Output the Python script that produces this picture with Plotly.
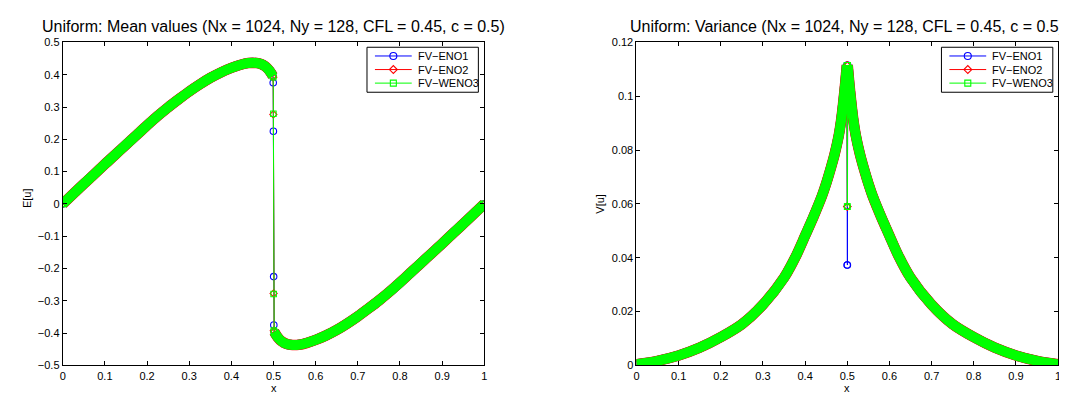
import plotly.graph_objects as go

# ---------------- data ----------------
# Mean values E[u]: smooth part left of the shock
mean_x_left = [0.0, 0.025, 0.05, 0.075, 0.1, 0.125, 0.15, 0.175, 0.2, 0.225, 0.25,
               0.275, 0.3, 0.325, 0.35, 0.375, 0.4, 0.42, 0.44, 0.46, 0.47, 0.48,
               0.49, 0.4985]
mean_y_left = [0.0, 0.031, 0.062, 0.092, 0.123, 0.153, 0.183, 0.213, 0.243, 0.272,
               0.299, 0.324, 0.348, 0.370, 0.390, 0.407, 0.421, 0.430, 0.436, 0.436,
               0.433, 0.426, 0.413, 0.396]
# smooth part right of the shock
mean_x_right = [0.5015, 0.51, 0.52, 0.53, 0.54, 0.56, 0.58, 0.6, 0.625, 0.65, 0.675,
                0.7, 0.725, 0.75, 0.775, 0.8, 0.825, 0.85, 0.875, 0.9, 0.925, 0.95,
                0.975, 1.0]
mean_y_right = [-0.396, -0.413, -0.426, -0.433, -0.436, -0.436, -0.430, -0.421, -0.407,
                -0.390, -0.370, -0.348, -0.324, -0.299, -0.272, -0.243, -0.213,
                -0.183, -0.153, -0.123, -0.092, -0.062, -0.031, 0.0]
# cells inside the shock (x and values per scheme)
shock_x = [0.4993, 0.4997, 0.5003, 0.5007]
shock_mean_eno1 = [0.375, 0.225, -0.225, -0.375]
shock_mean_eno2 = [0.392, 0.277, -0.277, -0.392]
shock_mean_weno3 = [0.392, 0.279, -0.279, -0.392]

# Variance V[u]
var_x_left = [0.0, 0.05, 0.1, 0.15, 0.2, 0.25, 0.3, 0.35, 0.38, 0.4, 0.42, 0.44,
              0.45, 0.46, 0.47, 0.48, 0.485, 0.49, 0.495, 0.499]
var_y_left = [0.0004, 0.0017, 0.0037, 0.0066, 0.0105, 0.0153, 0.0226, 0.0326,
              0.0412, 0.0482, 0.0553, 0.0630, 0.0676, 0.0728, 0.0785, 0.0856,
              0.0905, 0.0970, 0.1045, 0.1115]
var_x_right = [0.501, 0.505, 0.51, 0.515, 0.52, 0.53, 0.54, 0.55, 0.56, 0.58, 0.6,
               0.62, 0.65, 0.7, 0.75, 0.8, 0.85, 0.9, 0.95, 1.0]
var_y_right = [0.1115, 0.1045, 0.0970, 0.0905, 0.0856, 0.0785, 0.0728, 0.0676,
               0.0630, 0.0553, 0.0482, 0.0412, 0.0326, 0.0226, 0.0153, 0.0105,
               0.0066, 0.0037, 0.0017, 0.0004]
shock_var_x = [0.4997, 0.5003]
shock_var_eno1 = [0.0373, 0.0373]
shock_var_eno2 = [0.0590, 0.0590]
shock_var_weno3 = [0.0590, 0.0590]

x_ticks = [0, 0.1, 0.2, 0.3, 0.4, 0.5, 0.6, 0.7, 0.8, 0.9, 1]
x_tick_labels = ["0", "0.1", "0.2", "0.3", "0.4", "0.5", "0.6", "0.7", "0.8", "0.9", "1"]
mean_ticks = [-0.5, -0.4, -0.3, -0.2, -0.1, 0, 0.1, 0.2, 0.3, 0.4, 0.5]
mean_tick_labels = ["\u22120.5", "\u22120.4", "\u22120.3", "\u22120.2", "\u22120.1", "0",
                    "0.1", "0.2", "0.3", "0.4", "0.5"]
var_ticks = [0, 0.02, 0.04, 0.06, 0.08, 0.1, 0.12]
var_tick_labels = ["0", "0.02", "0.04", "0.06", "0.08", "0.1", "0.12"]

series_names = ["FV\u2212ENO1", "FV\u2212ENO2", "FV\u2212WENO3"]
series_colors = ["#0000ff", "#ff0000", "#00ff00"]
series_symbols = ["circle-open", "diamond-open", "square-open"]
series_sizes = [6.5, 5.5, 5.5]
band_widths = [10, 10.6, 10]
shock_mean = [shock_mean_eno1, shock_mean_eno2, shock_mean_weno3]
shock_var = [shock_var_eno1, shock_var_eno2, shock_var_weno3]

title_left = "Uniform: Mean values (Nx = 1024, Ny = 128, CFL = 0.45, c = 0.5)"
title_right = "Uniform: Variance (Nx = 1024, Ny = 128, CFL = 0.45, c = 0.5)"

# ---------------- figure ----------------
W, H = 1067, 393
FONT = "Liberation Sans, Arial, Helvetica, sans-serif"

fig = go.Figure()


def band(xs, ys, color, width, xa, ya):
    return go.Scatter(x=xs, y=ys, mode="lines",
                      line=dict(color=color, width=width, shape="spline", smoothing=0.8),
                      showlegend=False, hoverinfo="skip", xaxis=xa, yaxis=ya)


for i in range(3):
    c = series_colors[i]
    mk = dict(symbol=series_symbols[i], size=series_sizes[i], color=c,
              line=dict(width=1.1, color=c))
    fig.add_trace(band(mean_x_left, mean_y_left, c, band_widths[i], "x", "y"))
    fig.add_trace(band(mean_x_right, mean_y_right, c, band_widths[i], "x", "y"))
    fig.add_trace(go.Scatter(x=mean_x_left + shock_x + mean_x_right,
                             y=mean_y_left + shock_mean[i] + mean_y_right,
                             mode="lines+markers", name=series_names[i],
                             line=dict(color=c, width=1), marker=mk,
                             showlegend=False, xaxis="x", yaxis="y"))
    fig.add_trace(band(var_x_left, var_y_left, c, band_widths[i], "x2", "y2"))
    fig.add_trace(band(var_x_right, var_y_right, c, band_widths[i], "x2", "y2"))
    fig.add_trace(go.Scatter(x=var_x_left + shock_var_x + var_x_right,
                             y=var_y_left + shock_var[i] + var_y_right,
                             mode="lines+markers", name=series_names[i],
                             line=dict(color=c, width=1), marker=mk,
                             showlegend=False, xaxis="x2", yaxis="y2"))

# ---------------- legends drawn on a pixel overlay ----------------
legend_boxes = [(358, 470), (935.7, 1047.7)]
box_top, box_bottom = 34.3, 80.7
row_y = [43.3, 57.3, 71.3]
annotations = []
for (bx0, bx1) in legend_boxes:
    fig.add_trace(go.Scatter(x=[bx0, bx1, bx1, bx0, bx0],
                             y=[box_top, box_top, box_bottom, box_bottom, box_top],
                             mode="lines", fill="toself", fillcolor="white",
                             line=dict(color="black", width=1), showlegend=False,
                             hoverinfo="skip", xaxis="x3", yaxis="y3"))
    for i in range(3):
        c = series_colors[i]
        ly = row_y[i]
        fig.add_trace(go.Scatter(x=[bx0 + 8, bx0 + 45], y=[ly, ly], mode="lines",
                                 line=dict(color=c, width=1), showlegend=False,
                                 hoverinfo="skip", xaxis="x3", yaxis="y3"))
        fig.add_trace(go.Scatter(x=[bx0 + 26.5], y=[ly], mode="markers",
                                 marker=dict(symbol=series_symbols[i],
                                             size=series_sizes[i] + 0.5, color=c,
                                             line=dict(width=1.1, color=c)),
                                 showlegend=False, hoverinfo="skip",
                                 xaxis="x3", yaxis="y3"))
        annotations.append(dict(text=series_names[i], x=(bx0 + 49) / W, y=(H - ly) / H,
                                xref="paper", yref="paper", showarrow=False,
                                xanchor="left", yanchor="middle",
                                font=dict(size=11, family=FONT, color="black")))

L1, R1 = 52 / W, 476 / W
L2, R2 = 629 / W, 1053 / W
B, T = (H - 362.5) / H, (H - 29.3) / H

axis_common = dict(showline=True, linecolor="black", linewidth=1, mirror="ticks",
                   ticks="inside", ticklen=4, tickcolor="black", showgrid=False,
                   zeroline=False, tickfont=dict(size=11, color="black", family=FONT))

annotations += [
    dict(text=title_left, x=(L1 + R1) / 2, y=(H - 13) / H, xref="paper", yref="paper",
         showarrow=False, font=dict(size=16, family=FONT), xanchor="center",
         yanchor="middle"),
    dict(text=title_right, x=(L2 + R2) / 2, y=(H - 13) / H, xref="paper",
         yref="paper", showarrow=False, font=dict(size=16, family=FONT),
         xanchor="center", yanchor="middle"),
    dict(text="x", x=(L1 + R1) / 2, y=(H - 386) / H, xref="paper", yref="paper",
         showarrow=False, font=dict(size=11, family=FONT), xanchor="center",
         yanchor="middle"),
    dict(text="x", x=(L2 + R2) / 2, y=(H - 386) / H, xref="paper", yref="paper",
         showarrow=False, font=dict(size=11, family=FONT), xanchor="center",
         yanchor="middle"),
    dict(text="E[u]", x=16 / W, y=(H - 190) / H, xref="paper", yref="paper",
         showarrow=False, textangle=-90, font=dict(size=11, family=FONT),
         xanchor="center", yanchor="middle"),
    dict(text="V[u]", x=592 / W, y=(H - 196) / H, xref="paper", yref="paper",
         showarrow=False, textangle=-90, font=dict(size=11, family=FONT),
         xanchor="center", yanchor="middle"),
]

fig.update_layout(
    width=W, height=H, margin=dict(l=0, r=0, t=0, b=0),
    paper_bgcolor="white", plot_bgcolor="rgba(0,0,0,0)",
    font=dict(family=FONT, color="black"),
    showlegend=False,
    xaxis=dict(domain=[L1, R1], range=[0, 1], tickvals=x_ticks, ticktext=x_tick_labels,
               anchor="y", **axis_common),
    yaxis=dict(domain=[B, T], range=[-0.5, 0.5], tickvals=mean_ticks,
               ticktext=mean_tick_labels, anchor="x", **axis_common),
    xaxis2=dict(domain=[L2, R2], range=[0, 1], tickvals=x_ticks, ticktext=x_tick_labels,
                anchor="y2", **axis_common),
    yaxis2=dict(domain=[B, T], range=[0, 0.12], tickvals=var_ticks,
                ticktext=var_tick_labels, anchor="x2", **axis_common),
    xaxis3=dict(domain=[0, 1], range=[0, W], visible=False, anchor="y3",
                fixedrange=True),
    yaxis3=dict(domain=[0, 1], range=[H, 0], visible=False, anchor="x3",
                fixedrange=True),
    annotations=annotations,
)

fig.write_html("out.html")
